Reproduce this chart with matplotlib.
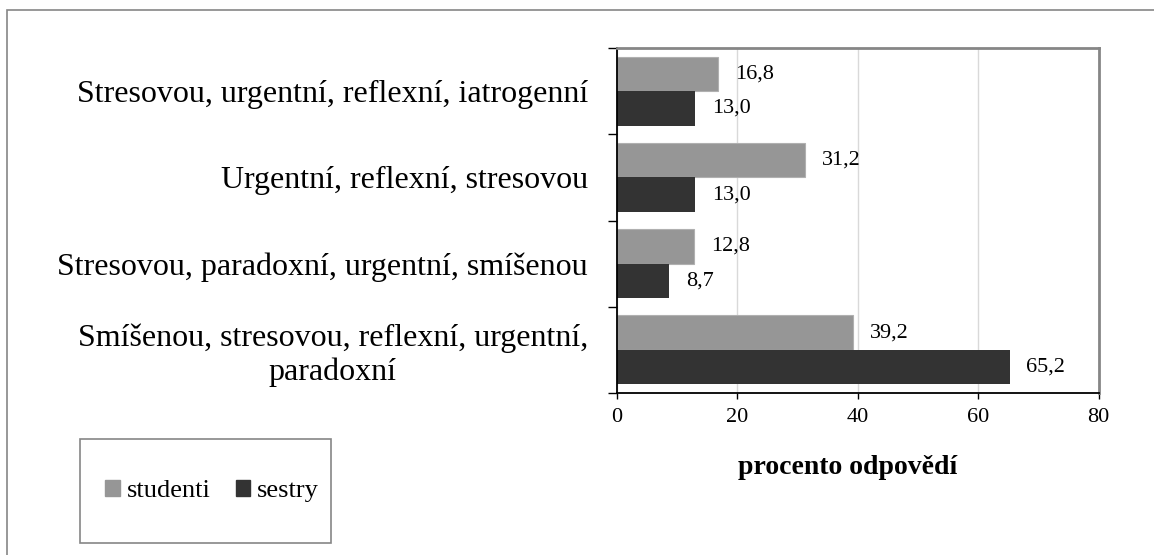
import matplotlib
matplotlib.use("Agg")
import matplotlib.pyplot as plt
from matplotlib.patches import Rectangle, Patch
import numpy as np

categories = [
    "Stresovou, urgentní, reflexní, iatrogenní",
    "Urgentní, reflexní, stresovou",
    "Stresovou, paradoxní, urgentní, smíšenou",
    "Smíšenou, stresovou, reflexní, urgentní,\nparadoxní",
]
studenti = [16.8, 31.2, 12.8, 39.2]
sestry = [13.0, 13.0, 8.7, 65.2]
series_names = ["studenti", "sestry"]
x_ticks = [0, 20, 40, 60, 80]

color_studenti = "#969696"
color_sestry = "#333333"
serif = ["Liberation Serif", "DejaVu Serif"]

plt.rcParams["font.family"] = serif

fig = plt.figure(figsize=(11.54, 5.55), dpi=100)

# outer frame of the chart area
fig.patches.append(Rectangle((7 / 1154, -0.05), 1.1, (555 - 9.5) / 555 + 0.05,
                             transform=fig.transFigure, fill=False,
                             edgecolor="#868686", linewidth=1.2))

ax = fig.add_axes([617 / 1154, (555 - 393) / 555, (1098.7 - 617) / 1154, 345 / 555])

y = np.arange(len(categories))
h = 0.4
b1 = ax.barh(y - h / 2, studenti, height=h, color=color_studenti, edgecolor="#b0b0b0", linewidth=0.8)
b2 = ax.barh(y + h / 2, sestry, height=h, color=color_sestry, linewidth=0)

ax.bar_label(b1, labels=[f"{v:.1f}".replace(".", ",") for v in studenti], padding=12, fontsize=16)
ax.bar_label(b2, labels=[f"{v:.1f}".replace(".", ",") for v in sestry], padding=12, fontsize=16)

ax.set_xlim(0, 80)
ax.set_ylim(len(categories) - 0.5, -0.5)
ax.set_xticks(x_ticks)
ax.set_xticklabels([str(t) for t in x_ticks], fontsize=16)
ax.tick_params(axis="x", length=4.5, width=1, pad=6)

ax.set_yticks(y)
ax.set_yticklabels(categories, fontsize=23)
for lab in ax.get_yticklabels():
    lab.set_multialignment("center")
ax.tick_params(axis="y", which="major", length=0, pad=21)
ax.set_yticks(np.arange(len(categories) + 1) - 0.5, minor=True)
ax.tick_params(axis="y", which="minor", length=6.5, width=1)

ax.xaxis.grid(True, color="#d9d9d9", linewidth=1)
ax.set_axisbelow(True)
for s in ["top", "right"]:
    ax.spines[s].set_color("#868686")
    ax.spines[s].set_linewidth(2)
for s in ["left", "bottom"]:
    ax.spines[s].set_color("black")
    ax.spines[s].set_linewidth(1.3)

fig.text(848 / 1154, 1 - 467 / 555, "procento odpovědí", fontsize=20, fontweight="bold",
         ha="center", va="center")

# legend box
fig.patches.append(Rectangle((80 / 1154, 1 - 543 / 555), (331 - 80) / 1154, (543 - 439) / 555,
                             transform=fig.transFigure, fill=False,
                             edgecolor="#868686", linewidth=1.2))
handles = [Patch(color=color_studenti), Patch(color=color_sestry)]
fig.legend(handles, series_names, loc="center", bbox_to_anchor=(212 / 1154, 1 - 491 / 555),
           ncol=2, frameon=False, fontsize=19, handlelength=0.55, handleheight=0.55,
           handletextpad=0.25, columnspacing=0.95, borderpad=0)

fig.savefig("out.png", dpi=100)
